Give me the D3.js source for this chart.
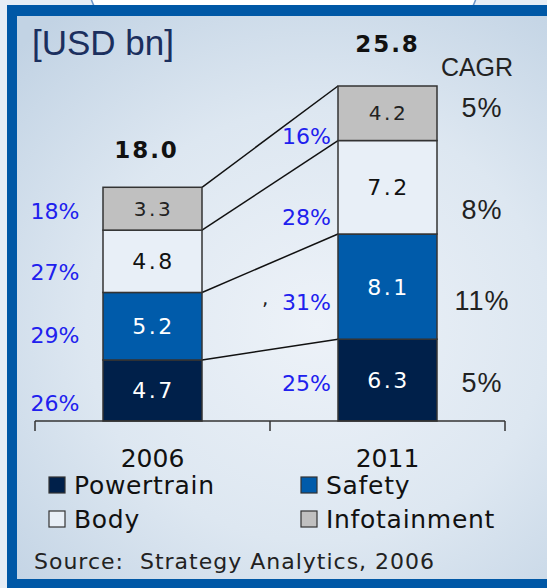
<!DOCTYPE html>
<html>
<head>
<meta charset="utf-8">
<script src="https://cdn.jsdelivr.net/npm/d3@7"></script>
<style>
  html, body { margin: 0; padding: 0; background: #e6edf5; }
  svg { display: block; }
  text { font-family: "DejaVu Sans", Verdana, sans-serif; }
</style>
</head>
<body>
<svg id="chart" width="547" height="588"></svg>
<script>
// chart values
const years = ["2006", "2011"];
const segments = ["Powertrain", "Safety", "Body", "Infotainment"];
const values2006 = [4.7, 5.2, 4.8, 3.3];
const values2011 = [6.3, 8.1, 7.2, 4.2];
const totals = [18.0, 25.8];
const share2006 = ["26%", "29%", "27%", "18%"];
const share2011 = ["25%", "31%", "28%", "16%"];
const cagr = ["5%", "11%", "8%", "5%"];

const segColors = {
    Powertrain: "#00204a",
    Safety: "#005baa",
    Body: "#e8eff7",
    Infotainment: "#c0c0c0"
};
const segText = { Powertrain: "#fff", Safety: "#fff", Body: "#111", Infotainment: "#222" };

// build rows for d3.stack
let rows = years.map((year, i) => {
    let r = { year: year };
    segments.forEach((s, j) => { r[s] = (i === 0 ? values2006 : values2011)[j]; });
    return r;
});
let series = d3.stack().keys(segments)(rows);

let width = 547;
let height = 588;
let svg = d3.select("#chart");

// frame + background
let defs = svg.append("defs");
let grad = defs.append("radialGradient").attr("id", "bg")
    .attr("cx", "50%").attr("cy", "55%").attr("r", "70%");
grad.append("stop").attr("offset", "0%").attr("stop-color", "#edf2f8");
grad.append("stop").attr("offset", "55%").attr("stop-color", "#dde7f1");
grad.append("stop").attr("offset", "100%").attr("stop-color", "#c2d3e4");

svg.append("rect").attr("width", width).attr("height", height).attr("fill", "#e6edf5");
svg.append("rect").attr("x", 89).attr("y", -60).attr("width", 389).attr("height", 90)
    .attr("rx", 45).attr("fill", "#fff").attr("stroke", "#6a94c8").attr("stroke-width", 1.5);
svg.append("rect").attr("x", 7).attr("y", 5).attr("width", 600).attr("height", 600).attr("fill", "#0058a6");
svg.append("rect").attr("x", 17).attr("y", 16).attr("width", 600).attr("height", 563).attr("fill", "url(#bg)");

// scales
let x = d3.scaleBand().domain(years).range([35, 505]);
let y = d3.scaleLinear().domain([0, 25.8]).range([421, 86]);
let barW = 99;
let barX = d => x(d) + (x.bandwidth() - barW) / 2;

// connecting lines between segment tops
let lines = svg.append("g");
series.forEach(s => {
    lines.append("line")
        .attr("x1", barX(years[0]) + barW).attr("y1", y(s[0][1]))
        .attr("x2", barX(years[1])).attr("y2", y(s[1][1]))
        .attr("stroke", "#111").attr("stroke-width", 1.5);
});

// stacked bars
let groups = svg.selectAll("g.seg").data(series).enter().append("g").attr("class", "seg");
groups.selectAll("rect").data(d => d).enter().append("rect")
    .attr("x", d => barX(d.data.year))
    .attr("y", d => y(d[1]))
    .attr("width", barW)
    .attr("height", d => y(d[0]) - y(d[1]))
    .attr("fill", function() { return segColors[d3.select(this.parentNode).datum().key]; })
    .attr("stroke", "#333").attr("stroke-width", 1.5);

// values inside bars
groups.each(function(s) {
    d3.select(this).selectAll("text.val").data(s).enter().append("text")
        .attr("x", d => barX(d.data.year) + barW / 2 + 1)
        .attr("y", d => (y(d[0]) + y(d[1])) / 2 + (s.key === "Infotainment" ? 7 : 8))
        .attr("text-anchor", "middle")
        .attr("font-size", s.key === "Infotainment" ? 20 : 22)
        .attr("letter-spacing", 2.5)
        .attr("fill", segText[s.key])
        .text(d => d.data[s.key].toFixed(1));
});

// totals
let totalDy = [-29, -34];
svg.selectAll("text.total").data(totals).enter().append("text")
    .attr("x", (d, i) => barX(years[i]) + barW / 2 - (i === 0 ? 6 : 0))
    .attr("y", (d, i) => y(d) + totalDy[i])
    .attr("text-anchor", "middle").attr("font-size", 23).attr("font-weight", "bold")
    .attr("letter-spacing", 2).attr("fill", "#111")
    .text(d => d.toFixed(1));

// share labels (blue)
let blue = "#2020ee";
let share06Dy = [-10, -17, -12, -11];
series.forEach((s, j) => {
    svg.append("text").attr("x", 55).attr("y", y(s[0][0]) + share06Dy[j])
        .attr("text-anchor", "middle").attr("font-size", 22).attr("fill", blue)
        .text(share2006[j]);
});
let share11Dy = [11, 23, 38, 31];
series.forEach((s, j) => {
    svg.append("text").attr("x", barX(years[1]) - 7)
        .attr("y", (y(s[1][0]) + y(s[1][1])) / 2 + share11Dy[j])
        .attr("text-anchor", "end").attr("font-size", 22).attr("fill", blue)
        .text(share2011[j]);
});
// stray comma next to 31%
svg.append("text").attr("x", 262).attr("y", 305).attr("font-size", 20).attr("fill", "#222").text(",");

// CAGR column
svg.append("text").attr("x", 477).attr("y", 76).attr("text-anchor", "middle")
    .style("font-family", "'Liberation Sans', Arial, sans-serif").attr("font-size", 25)
    .attr("fill", "#222").text("CAGR");
let cagrDy = [12, 23, 32, 4];
series.forEach((s, j) => {
    svg.append("text").attr("x", 482)
        .attr("y", (y(s[1][0]) + y(s[1][1])) / 2 + cagrDy[j])
        .attr("text-anchor", "middle")
        .style("font-family", "'Liberation Sans', Arial, sans-serif").attr("font-size", 27)
        .attr("letter-spacing", 1).attr("fill", "#222")
        .text(cagr[j]);
});

// unit label
svg.append("text").attr("x", 32).attr("y", 55)
    .style("font-family", "'Liberation Sans', Arial, sans-serif").attr("font-size", 35)
    .attr("fill", "#1b2f5e").text("[USD bn]");

// x axis with ticks at band edges
let axisY = y(0);
let ax = svg.append("g").attr("stroke", "#333").attr("stroke-width", 1.5);
ax.append("line").attr("x1", x.range()[0]).attr("x2", x.range()[1]).attr("y1", axisY).attr("y2", axisY);
let edges = years.map(d => x(d)).concat([x.range()[1]]);
edges.forEach(e => {
    ax.append("line").attr("x1", e).attr("x2", e).attr("y1", axisY).attr("y2", axisY + 10);
});
svg.selectAll("text.year").data(years).enter().append("text")
    .attr("x", d => x(d) + x.bandwidth() / 2)
    .attr("y", 467).attr("text-anchor", "middle").attr("font-size", 25).attr("fill", "#111")
    .text(d => d);

// legend
let legendPos = [[49, 477], [301, 477], [49, 511], [301, 511]];
segments.forEach((s, i) => {
    let p = legendPos[i];
    svg.append("rect").attr("x", p[0]).attr("y", p[1]).attr("width", 16).attr("height", 16)
        .attr("fill", segColors[s]).attr("stroke", "#333").attr("stroke-width", 1.2);
    svg.append("text").attr("x", p[0] + 25).attr("y", p[1] + 17)
        .attr("font-size", 25).attr("letter-spacing", 0.7).attr("fill", "#111").text(s);
});

// source
svg.append("text").attr("x", 34).attr("y", 569).attr("font-size", 22)
    .attr("letter-spacing", 1).attr("fill", "#222")
    .style("white-space", "pre").text("Source:  Strategy Analytics, 2006");
</script>
</body>
</html>
